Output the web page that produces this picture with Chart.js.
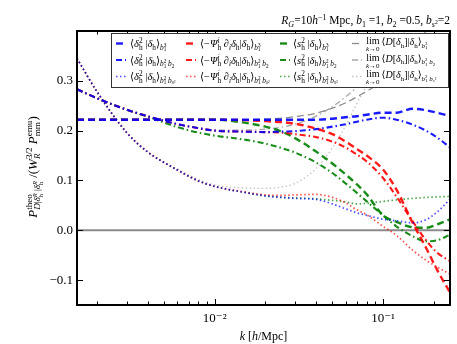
<!DOCTYPE html>
<html>
<head>
<meta charset="utf-8">
<script src="https://cdn.jsdelivr.net/npm/chart.js@4.4.1/dist/chart.umd.min.js"></script>
<style>
  html, body { margin: 0; padding: 0; background: #fff; }
  canvas { display: block; }
</style>
</head>
<body>
<canvas id="chart" width="457" height="344"></canvas>
<script>
// k values [h/Mpc] shared by every curve
var kVals = [0.00152, 0.002, 0.003, 0.004, 0.006, 0.008, 0.01, 0.015, 0.02, 0.025, 0.03,
             0.04, 0.05, 0.06, 0.07, 0.08, 0.1, 0.12, 0.15, 0.18, 0.21, 0.25];

// <delta_h^2 | delta_h>
var d2_b13   = [0.222, 0.222, 0.222, 0.222, 0.222, 0.222, 0.222, 0.222, 0.222, 0.222, 0.222,
                0.222, 0.224, 0.227, 0.229, 0.232, 0.236, 0.236, 0.244, 0.241, 0.236, 0.229];
var d2_b12b2 = [0.283, 0.265, 0.242, 0.229, 0.213, 0.205, 0.200, 0.198, 0.197, 0.198, 0.199,
                0.203, 0.208, 0.213, 0.218, 0.222, 0.226, 0.222, 0.212, 0.200, 0.186, 0.166];
var d2_b12bs = [0.345, 0.278, 0.196, 0.157, 0.121, 0.099, 0.088, 0.076, 0.069, 0.066, 0.064,
                0.062, 0.053, 0.043, 0.035, 0.030, 0.022, 0.019, 0.015, 0.021, 0.037, 0.062];
// <-Psi^i d_i delta_h | delta_h>
var psi_b13   = [0.222, 0.222, 0.222, 0.222, 0.222, 0.222, 0.222, 0.221, 0.219, 0.217, 0.214,
                 0.204, 0.193, 0.178, 0.163, 0.150, 0.122, 0.082, 0.015, -0.035, -0.080, -0.125];
var psi_b12b2 = [0.283, 0.265, 0.242, 0.229, 0.213, 0.205, 0.200, 0.198, 0.197, 0.196, 0.193,
                 0.187, 0.178, 0.166, 0.152, 0.138, 0.105, 0.068, 0.018, -0.020, -0.045, -0.062];
var psi_b12bs = [0.345, 0.278, 0.196, 0.157, 0.121, 0.099, 0.088, 0.077, 0.071, 0.070, 0.071,
                 0.072, 0.066, 0.055, 0.041, 0.031, 0.008, -0.010, -0.040, -0.060, -0.074, -0.088];
// <s_h^2 | delta_h>
var s2_b13   = [0.222, 0.222, 0.222, 0.222, 0.222, 0.222, 0.222, 0.216, 0.208, 0.198, 0.185,
                0.158, 0.134, 0.112, 0.092, 0.072, 0.030, 0.017, 0.006, 0.005, 0.012, 0.022];
var s2_b12b2 = [0.283, 0.265, 0.242, 0.228, 0.207, 0.196, 0.190, 0.182, 0.174, 0.165, 0.156,
                0.136, 0.115, 0.094, 0.075, 0.058, 0.030, 0.008, -0.012, -0.022, -0.020, -0.009];
var s2_b12bs = [0.345, 0.278, 0.196, 0.157, 0.121, 0.099, 0.088, 0.076, 0.069, 0.066, 0.065,
                0.063, 0.060, 0.057, 0.053, 0.054, 0.058, 0.061, 0.064, 0.066, 0.067, 0.068];
// lim k->0 <D[delta_h] | delta_h>
var lim_b13   = [0.222, 0.222, 0.222, 0.222, 0.222, 0.222, 0.222, 0.222, 0.223, 0.225, 0.228,
                 0.235, 0.245, 0.256, 0.268, 0.279, 0.300, 0.325, 0.360, 0.400, 0.440, 0.490];
var lim_b12b2 = [0.283, 0.265, 0.242, 0.229, 0.213, 0.205, 0.201, 0.201, 0.203, 0.207, 0.213,
                 0.229, 0.248, 0.268, 0.287, 0.305, 0.340, 0.375, 0.420, 0.460, 0.500, 0.550];
var lim_b12bs = [0.345, 0.278, 0.197, 0.158, 0.123, 0.102, 0.091, 0.085, 0.084, 0.087, 0.094,
                 0.124, 0.165, 0.210, 0.255, 0.290, 0.355, 0.410, 0.480, 0.540, 0.600, 0.650];

var yTicks = [-0.1, 0.0, 0.1, 0.2, 0.3];
var kMin = 0.00152, kMax = 0.25;

var FONT = '"Liberation Serif", "DejaVu Serif", serif';
var DASH = { dash: [7, 4], dashdot: [6, 3, 1.5, 3], dot: [1.5, 2.5] };
var WIDTH = { dash: 2.4, dashdot: 2.1, dot: 1.7 };

// small rich-text helpers for the math labels
function I(s) { return { i: s }; }
function S(sup, sub) { return { sup: sup, sub: sub }; }
var dh = [I('δ'), S(null, ['h'])];
var subB13 = S(null, [I('b'), S(['3'], ['1'])]);
var subB12b2 = S(null, [I('b'), S(['2'], ['1']), ' ', I('b'), S(null, ['2'])]);
var subB12bs = S(null, [I('b'), S(['2'], ['1']), ' ', I('b'), S(null, [I('s'), S(['2'])])]);
var subs = [subB13, subB12b2, subB12bs];

var headD2 = ['⟨', I('δ'), S(['2'], ['h']), ' |'].concat(dh, ['⟩']);
var headPsi = ['⟨−', I('Ψ'), S([I('i')], ['h']), ' ∂', S(null, [I('i')]), I('δ'), S(null, ['h']), '|'].concat(dh, ['⟩']);
var headS2 = ['⟨', I('s'), S(['2'], ['h']), ' |'].concat(dh, ['⟩']);
var headLim = [{ lim: true }, '⟨', I('D'), '['].concat(dh, [']|'], dh, ['⟩']);

function rich(ctx, toks, x, y, sz, draw) {
  var w = 0;
  toks.forEach(function (t) {
    if (typeof t === 'string' || t.i !== undefined) {
      var s = typeof t === 'string' ? t : t.i;
      ctx.font = (typeof t === 'string' ? '' : 'italic ') + sz + 'px ' + FONT;
      if (draw) ctx.fillText(s, x + w, y);
      w += ctx.measureText(s).width;
    } else if (t.lim) {
      ctx.font = sz + 'px ' + FONT;
      var a = ctx.measureText('lim').width;
      var under = [I('k'), '→0'];
      var b = rich(ctx, under, 0, 0, sz * 0.7, false);
      var ww = Math.max(a, b);
      if (draw) {
        ctx.font = sz + 'px ' + FONT;
        ctx.fillText('lim', x + w + (ww - a) / 2, y - 1);
        rich(ctx, under, x + w + (ww - b) / 2, y + sz * 0.6, sz * 0.7, true);
      }
      w += ww + 2;
    } else {
      var ss = sz * 0.7;
      var p = t.sup ? rich(ctx, t.sup, x + w, y - sz * 0.38, ss, draw) : 0;
      var q = t.sub ? rich(ctx, t.sub, x + w, y + sz * 0.25, ss, draw) : 0;
      w += Math.max(p, q);
    }
  });
  return w;
}

var groups = [
  { color: 'rgba(0,0,255,ALPHA)', head: headD2, vals: [d2_b13, d2_b12b2, d2_b12bs], hx: 116, tx: 130 },
  { color: 'rgba(255,0,0,ALPHA)', head: headPsi, vals: [psi_b13, psi_b12b2, psi_b12bs], hx: 186, tx: 200 },
  { color: 'rgba(0,128,0,ALPHA)', head: headS2, vals: [s2_b13, s2_b12b2, s2_b12bs], hx: 280, tx: 293 },
  { color: 'GRAY', head: headLim, vals: [lim_b13, lim_b12b2, lim_b12bs], hx: 352, tx: 366 }
];
var styles = ['dash', 'dashdot', 'dot'];
var grays = ['#8c8c8c', '#a6a6a6', '#c4c4c4'];

function lineColor(g, r) {
  if (g.color === 'GRAY') return grays[r];
  return g.color.replace('ALPHA', r === 2 ? '0.7' : '0.9');
}

var datasets = [];
groups.forEach(function (g, gi) {
  g.vals.forEach(function (vals, r) {
    datasets.push({
      data: kVals.map(function (k, i) { return { x: k, y: vals[i] }; }),
      borderColor: lineColor(g, r),
      borderWidth: gi === 3 ? 1.3 : WIDTH[styles[r]],
      borderDash: DASH[styles[r]],
      pointRadius: 0,
      cubicInterpolationMode: 'monotone',
      fill: false,
      order: gi === 3 ? 5 : 1
    });
  });
});
datasets.push({
  data: [{ x: kMin, y: 0 }, { x: kMax, y: 0 }],
  borderColor: '#8a8a8a', borderWidth: 1.8, pointRadius: 0, order: 10
});

var decorPlugin = {
  id: 'decor',
  afterDraw: function (chart) {
    var ctx = chart.ctx, a = chart.chartArea, x = chart.scales.x, y = chart.scales.y;
    ctx.save();
    ctx.strokeStyle = '#000';
    ctx.lineWidth = 1;
    ctx.beginPath();
    yTicks.forEach(function (v) {
      var py = Math.round(y.getPixelForValue(v)) + 0.5;
      ctx.moveTo(a.left, py); ctx.lineTo(a.left + 6, py);
      ctx.moveTo(a.right, py); ctx.lineTo(a.right - 6, py);
    });
    [-3, -2, -1].forEach(function (d) {
      for (var m = 1; m <= 9; m++) {
        var k = m * Math.pow(10, d);
        if (k < kMin || k > kMax) continue;
        var px = Math.round(x.getPixelForValue(k)) + 0.5;
        var len = m === 1 ? 6 : 3.5;
        ctx.moveTo(px, a.bottom); ctx.lineTo(px, a.bottom - len);
        ctx.moveTo(px, a.top); ctx.lineTo(px, a.top + len);
      }
    });
    ctx.stroke();
    ctx.lineWidth = 2;
    ctx.strokeRect(a.left, a.top, a.right - a.left, a.bottom - a.top);

    // legend
    var lx = 111, ly = 33, lw = 337, lh = 54;
    ctx.fillStyle = '#fff';
    ctx.fillRect(lx, ly, lw, lh);
    ctx.lineWidth = 1;
    ctx.strokeStyle = '#333';
    ctx.strokeRect(lx + 0.5, ly + 0.5, lw, lh);
    var rowsY = [47, 63.5, 80];
    groups.forEach(function (g) {
      for (var r = 0; r < 3; r++) {
        var hy = rowsY[r] - 3.5;
        ctx.save();
        ctx.strokeStyle = lineColor(g, r);
        ctx.lineWidth = g.color === 'GRAY' ? 1.3 : WIDTH[styles[r]];
        ctx.setLineDash(DASH[styles[r]]);
        ctx.beginPath();
        ctx.moveTo(g.hx, hy); ctx.lineTo(g.hx + 10, hy);
        ctx.stroke();
        ctx.restore();
        ctx.fillStyle = '#000';
        ctx.textBaseline = 'alphabetic';
        var by = g.color === 'GRAY' ? rowsY[r] - 2 : rowsY[r];
        rich(ctx, g.head.concat([subs[r]]), g.tx, by, g.color === 'GRAY' ? 10 : 10.5, true);
      }
    });

    // title
    ctx.fillStyle = '#000';
    var title = [I('R'), S(null, [I('G')]), '=10', I('h'), S(['−1']), ' Mpc, ', I('b'), S(null, ['1']),
                 ' =1, ', I('b'), S(null, ['2']), ' =0.5, ', I('b'), S(null, [I('s'), S(['2'])]), '=2'];
    var tw = rich(ctx, title, 0, 0, 11.5, false);
    rich(ctx, title, 450 - tw, 24, 11.5, true);

    // x axis title
    var xt = [I('k'), ' [', I('h'), '/Mpc]'];
    var xw = rich(ctx, xt, 0, 0, 12, false);
    rich(ctx, xt, (a.left + a.right) / 2 - xw / 2, 340, 12, true);

    // y axis title
    var yt = [I('P'), S(['theo'], [I('D'), '|', I('δ'), S([I('R')], ['h']), ' |', I('δ'), S([I('R')], ['h'])]),
              ' /(', I('W'), S(['3/2'], [I('R')]), ' ', I('P'), S(['emu'], ['mm']), ')'];
    var yw = rich(ctx, yt, 0, 0, 13, false);
    ctx.translate(37, 167);
    ctx.rotate(-Math.PI / 2);
    rich(ctx, yt, -yw / 2, 0, 13, true);
    ctx.restore();
  }
};

var supDigits = { '-': '⁻', '0': '⁰', '1': '¹', '2': '²', '3': '³' };

new Chart(document.getElementById('chart').getContext('2d'), {
  type: 'line',
  data: { datasets: datasets },
  options: {
    responsive: false,
    animation: false,
    devicePixelRatio: 1,
    layout: { padding: { left: 0, right: 7, top: 31, bottom: 0 } },
    plugins: { legend: { display: false }, tooltip: { enabled: false } },
    scales: {
      x: {
        type: 'logarithmic',
        min: kMin, max: kMax,
        grid: { display: false, drawTicks: false },
        border: { display: false },
        afterFit: function (s) { s.height = 39; },
        ticks: {
          autoSkip: false, maxRotation: 0, padding: 6,
          color: '#000', font: { family: FONT, size: 13 },
          callback: function (v) {
            var l = Math.log10(v);
            if (Math.abs(l - Math.round(l)) > 1e-6) return null;
            return '10' + String(Math.round(l)).split('').map(function (c) { return supDigits[c]; }).join('');
          }
        }
      },
      y: {
        min: -0.15, max: 0.4,
        grid: { display: false, drawTicks: false },
        border: { display: false },
        afterFit: function (s) { s.width = 77; },
        ticks: {
          stepSize: 0.1, includeBounds: false, padding: 4,
          color: '#000', font: { family: FONT, size: 13 },
          callback: function (v) {
            if (v < -0.11 || v > 0.31) return null;
            return (v < -0.001 ? '−' : '') + Math.abs(v).toFixed(1);
          }
        }
      }
    }
  },
  plugins: [decorPlugin]
});
</script>
</body>
</html>
